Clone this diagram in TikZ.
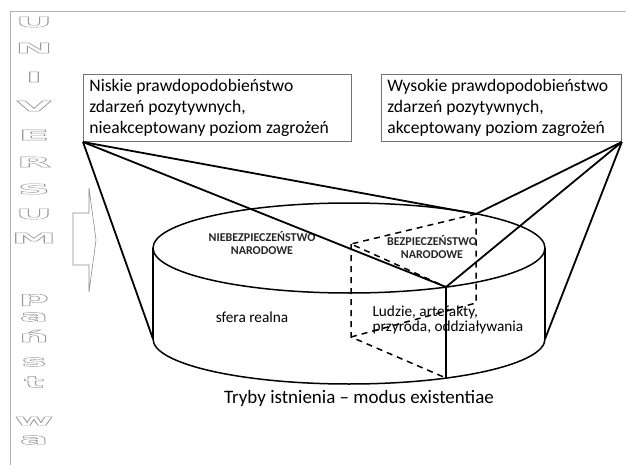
\documentclass[tikz,border=0pt]{standalone}
\usepackage{fontspec}
\setmainfont{Carlito}
\newfontfamily\artfont{DejaVu Sans}

% hollow (stroked) glyphs for the side lettering
\newcommand{\hollow}[1]{\special{pdf:literal direct 1 Tr 0.35 w}#1\special{pdf:literal direct 0 Tr}}

\tikzset{
  frameline/.style={draw=black!30, line width=1pt},
  infobox/.style={draw=black!55, line width=0.8pt, anchor=south west, align=flush left,
    inner xsep=6pt, minimum height=67pt, font=\fontsize{17.6}{21}\selectfont},
  ray/.style={line width=1.8pt},
  rim/.style={line width=1.5pt},
  hidden/.style={line width=1.5pt, dash pattern=on 6pt off 5pt},
  realm/.style={font=\fontsize{12}{12.5}\selectfont\bfseries, align=center, text=black!85},
  plain/.style={font=\fontsize{15.3}{15}\selectfont, align=flush left},
  wordletter/.style={font=\artfont\bfseries\fontsize{14}{14}\selectfont, text=black!40, inner sep=0pt}
}

\begin{document}
\begin{tikzpicture}[x=1pt, y=-1pt]
    \useasboundingbox (0,0) rectangle (626,465);

    % Frame
    \draw[frameline] (626,12) -- (10,12) -- (10,465);

    % Side lettering
    \foreach \ch/\yy [count=\i] in {U/22, N/48, I/77, V/106, E/135, R/162, S/189, U/214, M/238}
        \node[wordletter] (uni\i) at (34,\yy) {\scalebox{3.2}[1]{\hollow{\ch}}};
    \foreach \ch/\yy [count=\i] in {p/300, a/317, ń/336, s/362, t/382, w/421, a/440}
        \node[wordletter] (pan\i) at (34,\yy) {\scalebox{3}[1.1]{\hollow{\ch}}};

    % Hollow arrow
    \draw[draw=black!45, line width=0.6pt]
        (73,213) -- (89,213) -- (89,188) -- (96,240) -- (89,292) -- (89,265) -- (73,265) -- cycle;

    % Boxes
    \node[infobox, text width=256pt] (low) at (83,142)
        {Niskie prawdopodobieństwo\\ zdarzeń pozytywnych,\\ nieakceptowany poziom zagrożeń};
    \node[infobox, text width=228pt] (high) at (381,142)
        {Wysokie prawdopodobieństwo\\ zdarzeń pozytywnych,\\ akceptowany poziom zagrożeń};

    % Cylinder
    \coordinate (topc) at (349,248);
    \coordinate (TL) at (153,248);
    \coordinate (TR) at (545,248);
    \coordinate (BL) at (153,339);
    \coordinate (BR) at (545,339);
    \draw[rim] (topc) ellipse [x radius=196, y radius=45];
    \draw[rim] (TL) -- (BL);
    \draw[rim] (TR) -- (BR);
    \draw[rim] (BL) arc [start angle=180, end angle=0, x radius=196, y radius=45];

    % Inner prism
    \coordinate (P) at (476,214);
    \coordinate (Q) at (351,244);
    \coordinate (F) at (446,287);
    \coordinate (P2) at (476,303);
    \coordinate (Q2) at (351,337);
    \coordinate (F2) at (446,378);
    \draw[hidden] (P) -- (Q) -- (F);
    \draw[hidden] (Q) -- (Q2) -- (F2);
    \draw[hidden] (Q2) -- (P2) -- (P);
    \draw[rim] (F) -- (F2);

    % Labels
    \node[realm] (danger) at (262,243) {NIEBEZPIECZEŃSTWO\\ NARODOWE};
    \node[realm] (safety) at (432,247) {BEZPIECZEŃSTWO\\ NARODOWE};
    \node[plain] (real) at (252,317) {sfera realna};
    \node[plain, anchor=west] (items) at (369,320) {Ludzie, artefakty,\\ przyroda, oddziaływania};
    \node[font=\fontsize{19}{20}\selectfont] (modes) at (359,398) {Tryby istnienia -- modus existentiae};

    % Rays
    \draw[ray] (low.south west) -- (BL);
    \draw[ray] (low.south west) -- (F);
    \draw[ray] (low.south west) -- (P);
    \draw[ray] (high.south east) -- (BR);
    \draw[ray] (high.south east) -- (F);
    \draw[ray] (high.south east) -- (P);
\end{tikzpicture}
\end{document}
